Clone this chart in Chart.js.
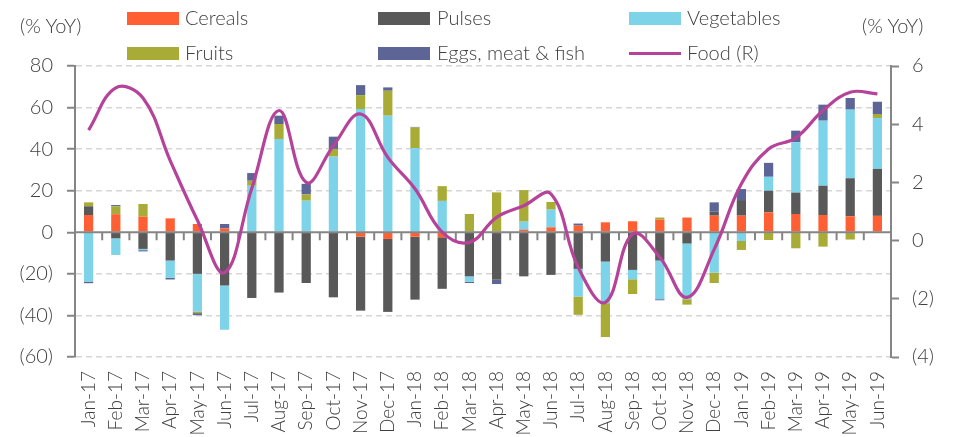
<!DOCTYPE html>
<html>
<head>
<meta charset="utf-8">
<script src="https://cdn.jsdelivr.net/npm/chart.js@4.4.1/dist/chart.umd.min.js"></script>
<style>
  body { margin: 0; background: #fff; }
  #wrap { position: relative; width: 957px; height: 437px; font-family: Lato, sans-serif; font-weight: 300; color: #404040; }
  #chart { position: absolute; left: 0; top: 0; }
  .lbl { position: absolute; font-size: 20px; line-height: 20px; white-space: nowrap; }
  .sw { position: absolute; width: 52px; height: 13px; }
  .ln { position: absolute; width: 52px; height: 3px; background: #b6439a; }
</style>
</head>
<body>
<div id="wrap">
  <canvas id="chart" width="957" height="437"></canvas>
  <div class="lbl" style="left:20px;top:15px">(% YoY)</div>
  <div class="lbl" style="left:862px;top:15px">(% YoY)</div>

  <div class="sw" style="left:127px;top:12px;background:#ff5f33"></div>
  <div class="lbl" style="left:185px;top:7px">Cereals</div>
  <div class="sw" style="left:378px;top:12px;background:#595959"></div>
  <div class="lbl" style="left:437px;top:7px">Pulses</div>
  <div class="sw" style="left:629px;top:12px;background:#7dd3e8"></div>
  <div class="lbl" style="left:687px;top:7px">Vegetables</div>

  <div class="sw" style="left:127px;top:47px;background:#a8ac37"></div>
  <div class="lbl" style="left:185px;top:42px">Fruits</div>
  <div class="sw" style="left:378px;top:47px;background:#5d6596"></div>
  <div class="lbl" style="left:437px;top:42px">Eggs, meat &amp; fish</div>
  <div class="ln" style="left:629px;top:52px"></div>
  <div class="lbl" style="left:687px;top:42px">Food (R)</div>
</div>
<script>
// Données
const months = ['Jan-17', 'Feb-17', 'Mar-17', 'Apr-17', 'May-17', 'Jun-17', 'Jul-17', 'Aug-17', 'Sep-17', 'Oct-17',
    'Nov-17', 'Dec-17', 'Jan-18', 'Feb-18', 'Mar-18', 'Apr-18', 'May-18', 'Jun-18', 'Jul-18', 'Aug-18',
    'Sep-18', 'Oct-18', 'Nov-18', 'Dec-18', 'Jan-19', 'Feb-19', 'Mar-19', 'Apr-19', 'May-19', 'Jun-19'];

const cereals = [8.3, 8.7, 7.5, 6.7, 4.0, 1.9, 0, 0, 0, 0,
    -2.1, -3.2, -2.1, -2.4, 0, 0, 1.3, 2.4, 3.2, 4.8,
    5.3, 6.1, 7.1, 8.0, 8.0, 9.6, 8.8, 8.3, 7.7, 7.9];
const pulses = [4.2, -2.9, -8.0, -13.6, -20.0, -25.6, -31.6, -29.0, -24.4, -31.3,
    -35.6, -35.1, -30.3, -24.8, -21.2, -22.8, -21.2, -20.5, -17.6, -14.1,
    -18.1, -13.6, -5.4, 1.9, 7.5, 10.4, 10.3, 14.1, 18.3, 22.6];
const vegetables = [-23.7, -8.0, -0.6, -8.3, -18.1, -21.3, 22.4, 44.9, 15.2, 36.4,
    59.3, 56.1, 40.5, 15.1, -2.6, 0, 3.8, 8.5, -13.3, -20.0,
    -4.5, -18.6, -26.8, -19.4, -4.2, 6.7, 24.2, 31.3, 33.0, 24.5];
const fruits = [1.9, 3.8, 6.1, 0, -0.8, 0, 2.4, 7.2, 3.0, 3.7,
    6.7, 12.0, 9.9, 7.1, 8.8, 19.2, 15.2, 3.7, -8.8, -16.3,
    -7.1, 1.0, -2.6, -5.0, -4.3, -3.7, -7.7, -6.9, -3.5, 1.9];
const eggsMeatFish = [-0.8, 0.6, -0.6, -0.8, -1.0, 2.1, 3.7, 4.0, 5.1, 5.9,
    4.8, 1.6, 0.3, 0, -0.6, -2.1, 0, 0, 1.0, 0,
    0, -0.5, 0, 4.5, 5.3, 6.7, 5.6, 7.7, 5.6, 5.9];
const food = [3.8, 5.25, 4.9, 2.75, 0.7, -1.1, 1.8, 4.47, 2.0, 3.26,
    4.35, 2.86, 1.78, 0.29, -0.06, 0.8, 1.2, 1.6, -0.92, -2.12,
    0.23, -0.57, -1.95, -0.3, 1.95, 3.15, 3.53, 4.47, 5.1, 5.04];

const leftTicks = [80, 60, 40, 20, 0, -20, -40, -60];
const rightTicks = [6, 4, 2, 0, -2, -4];

const fmt = v => v < 0 ? '(' + Math.abs(v) + ')' : String(v);

Chart.defaults.font.family = 'Lato, sans-serif';
Chart.defaults.font.weight = 300;
Chart.defaults.color = '#404040';

// Axe des x au niveau de zéro, avec graduations entre les catégories
const zeroAxis = {
    id: 'zeroAxis',
    beforeDatasetDraw(chart, args) {
        if (args.index !== 5) return;
        const {ctx, chartArea, scales} = chart;
        const y0 = scales.y.getPixelForValue(0);
        const step = scales.x.getPixelForValue(1) - scales.x.getPixelForValue(0);
        ctx.save();
        ctx.strokeStyle = '#858585';
        ctx.lineWidth = 2;
        ctx.beginPath();
        ctx.moveTo(chartArea.left, y0);
        ctx.lineTo(chartArea.right, y0);
        for (let i = 0; i <= months.length; i++) {
            const x = scales.x.getPixelForValue(0) - step / 2 + i * step;
            ctx.moveTo(x, y0);
            ctx.lineTo(x, y0 + 8);
        }
        ctx.stroke();
        ctx.restore();
    }
};

const barSet = (label, data, color) => ({
    type: 'bar', label, data, backgroundColor: color, borderWidth: 0,
    yAxisID: 'y', order: 1, barPercentage: 0.34, categoryPercentage: 1
});

new Chart(document.getElementById('chart'), {
    data: {
        labels: months,
        datasets: [
            barSet('Cereals', cereals, '#ff5f33'),
            barSet('Pulses', pulses, '#595959'),
            barSet('Vegetables', vegetables, '#7dd3e8'),
            barSet('Fruits', fruits, '#a8ac37'),
            barSet('Eggs, meat & fish', eggsMeatFish, '#5d6596'),
            {
                type: 'line', label: 'Food (R)', data: food, yAxisID: 'y1', order: 0,
                borderColor: '#b6439a', borderWidth: 3.2, pointRadius: 0, tension: 0.4,
                fill: false
            }
        ]
    },
    options: {
        responsive: false,
        animation: false,
        layout: { padding: { top: 66, left: 0, right: 0, bottom: 0 } },
        plugins: { legend: { display: false }, tooltip: { enabled: false } },
        scales: {
            x: {
                stacked: true,
                grid: { display: false, drawTicks: false },
                border: { display: false },
                ticks: { font: { size: 19 }, minRotation: 90, maxRotation: 90, autoSkip: false, padding: 14 },
                afterFit: s => { s.height = 80; }
            },
            y: {
                stacked: true,
                position: 'left',
                min: -60, max: 80,
                afterBuildTicks: s => { s.ticks = leftTicks.map(v => ({ value: v })); },
                ticks: { font: { size: 20 }, padding: 14, callback: v => fmt(v) },
                grid: {
                    color: ctx => ctx.tick && ctx.tick.value === 0 ? 'rgba(0,0,0,0)' : '#d6d6d6',
                    lineWidth: 1.5, tickLength: 8, tickColor: '#858585', tickWidth: 2
                },
                border: { color: '#858585', width: 2, dash: [6, 4] },
                afterFit: s => { s.width = 75; }
            },
            y1: {
                position: 'right',
                min: -4, max: 6,
                afterBuildTicks: s => { s.ticks = rightTicks.map(v => ({ value: v })); },
                ticks: { font: { size: 20 }, padding: 13, callback: v => fmt(v) },
                grid: { drawOnChartArea: false, tickLength: 8, tickColor: '#858585', tickWidth: 2 },
                border: { color: '#858585', width: 2 },
                afterFit: s => { s.width = 66; }
            }
        }
    },
    plugins: [zeroAxis]
});
</script>
</body>
</html>
